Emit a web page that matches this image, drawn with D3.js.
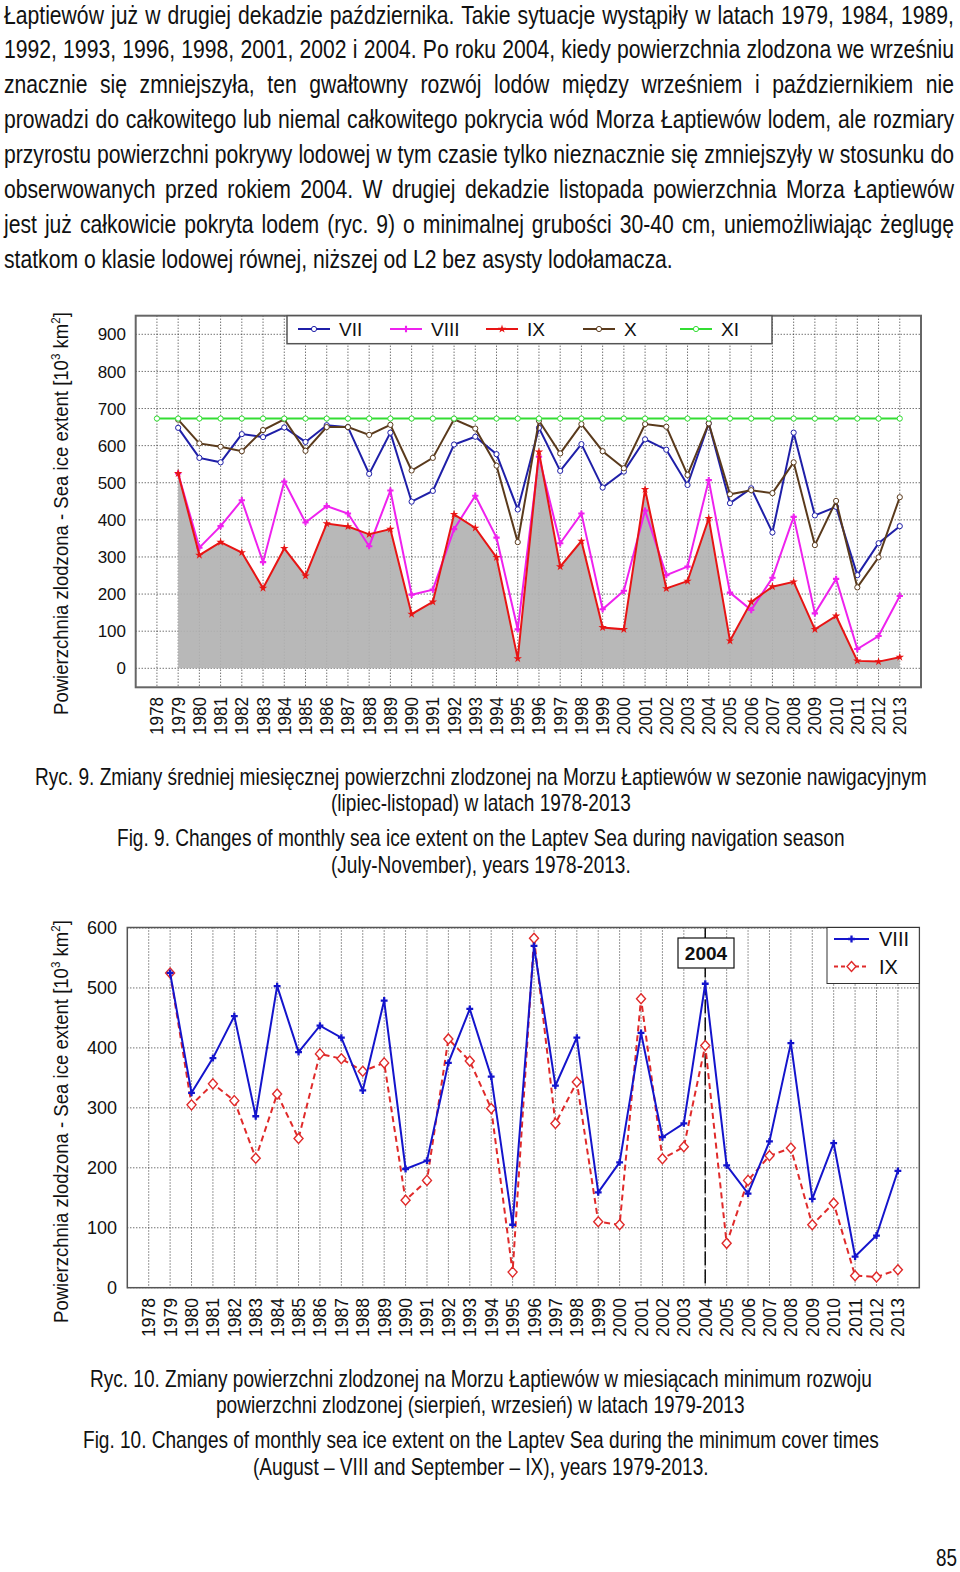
<!DOCTYPE html>
<html><head><meta charset="utf-8">
<script src="https://cdn.jsdelivr.net/npm/d3@7"></script>
<style>html,body{margin:0;padding:0;background:#fff;}svg{display:block;}</style>
</head><body>
<svg id="page" width="960" height="1572"></svg>
<script>
// ---------- DATA ----------
const years = [1978,1979,1980,1981,1982,1983,1984,1985,1986,1987,1988,1989,1990,1991,1992,1993,1994,1995,1996,1997,1998,1999,2000,2001,2002,2003,2004,2005,2006,2007,2008,2009,2010,2011,2012,2013];
const seriesVII  = [null,648,567,555,631,623,649,610,655,650,524,635,449,478,603,624,577,428,648,532,604,487,530,617,589,494,660,445,485,366,635,412,435,251,337,383];
const seriesVIII = [null,525,325,383,453,286,503,393,437,417,329,479,198,212,375,465,352,105,570,337,417,159,209,425,251,274,507,204,157,244,408,148,241,52,87,195];
const seriesIX   = [null,525,305,340,312,216,323,249,390,382,361,375,146,179,415,378,299,26,583,274,343,110,105,482,215,235,404,74,179,220,233,105,141,20,18,30];
const seriesX    = [null,670,606,597,585,642,671,586,650,650,629,656,533,567,671,646,546,340,667,579,658,585,539,658,651,521,660,469,480,472,555,332,451,218,299,461];
const seriesXI   = [673,673,673,673,673,673,673,673,673,673,673,673,673,673,673,673,673,673,673,673,673,673,673,673,673,673,673,673,673,673,673,673,673,673,673,673];
const topTicks = [0,100,200,300,400,500,600,700,800,900];
const bottomTicks = [0,100,200,300,400,500,600];
const topLegend = ["VII","VIII","IX","X","XI"];
const bottomLegend = ["VIII","IX"];
const markedYear = "2004";

const paragraph = [
 "Łaptiewów już w drugiej dekadzie października. Takie sytuacje wystąpiły w latach 1979, 1984, 1989,",
 "1992, 1993, 1996, 1998, 2001, 2002 i 2004. Po roku 2004, kiedy powierzchnia zlodzona we wrześniu",
 "znacznie się zmniejszyła, ten gwałtowny rozwój lodów między wrześniem i październikiem nie",
 "prowadzi do całkowitego lub niemal całkowitego pokrycia wód Morza Łaptiewów lodem, ale rozmiary",
 "przyrostu powierzchni pokrywy lodowej w tym czasie tylko nieznacznie się zmniejszyły w stosunku do",
 "obserwowanych przed rokiem 2004. W drugiej dekadzie listopada powierzchnia Morza Łaptiewów",
 "jest już całkowicie pokryta lodem (ryc. 9) o minimalnej grubości 30-40 cm, uniemożliwiając żeglugę",
 "statkom o klasie lodowej równej, niższej od L2 bez asysty lodołamacza."
];
const caption9 = [
 "Ryc. 9. Zmiany średniej miesięcznej powierzchni zlodzonej na Morzu Łaptiewów w sezonie nawigacyjnym",
 "(lipiec-listopad) w latach 1978-2013",
 "Fig. 9. Changes of monthly sea ice extent on the Laptev Sea during navigation season",
 "(July-November), years 1978-2013."
];
const caption10 = [
 "Ryc. 10. Zmiany powierzchni zlodzonej na Morzu Łaptiewów w miesiącach minimum rozwoju",
 "powierzchni zlodzonej (sierpień, wrzesień) w latach 1979-2013",
 "Fig. 10. Changes of monthly sea ice extent on the Laptev Sea during the minimum cover times",
 "(August – VIII and September – IX), years 1979-2013."
];
const pageNumber = "85";

// ---------- HELPERS ----------
const svg = d3.select("#page");
const FONT = "'Liberation Sans Narrow', 'Liberation Sans', Arial, Helvetica, sans-serif";
const FONT_REG = "'Liberation Sans', Arial, Helvetica, sans-serif";

// text squeezed horizontally (by a scale transform) to span [left, right]
function scaledText(g, s, left, right, baseline, size, opts = {}) {
  const t = g.append("text").attr("x", 0).attr("y", 0)
    .attr("font-family", FONT).attr("font-size", size)
    .attr("font-weight", opts.weight || "normal")
    .attr("fill", opts.fill || "#111").text(s);
  const w = t.node().getComputedTextLength();
  t.attr("transform", `translate(${left},${baseline}) scale(${(right-left)/w},1)`);
  return t;
}

// ---------- PARAGRAPH ----------
(function(){
  const size = 26, left = 4, right = 954, lastRight = 673;
  const g = svg.append("g");
  const probe = g.append("text").attr("font-family", FONT).attr("font-size", size).text(paragraph[paragraph.length-1]);
  const natLast = probe.node().getComputedTextLength();
  probe.remove();
  const sx = (lastRight - left) / natLast;
  const pg = g.append("g").attr("transform", `translate(${left},0) scale(${sx},1)`);
  paragraph.forEach((line, i) => {
    const t = pg.append("text").attr("x", 0).attr("y", 23.6 + 34.85 * i)
      .attr("font-family", FONT).attr("font-size", size).attr("fill", "#111").text(line);
    if (i < paragraph.length - 1) {
      const w = t.node().getComputedTextLength();
      const spaces = (line.match(/ /g) || []).length;
      const target = (right - left) / sx;
      t.attr("word-spacing", (target - w) / spaces);
    }
  });
})();

// ---------- CAPTIONS ----------
const capSize = 23;
const cap9Pos = [[35,927,785],[331,631,811],[117,845,846],[331,631,873]];
caption9.forEach((s,i)=> scaledText(svg, s, cap9Pos[i][0], cap9Pos[i][1], cap9Pos[i][2], capSize));
const cap10Pos = [[90,872,1387],[216,745,1413],[83,879,1448],[253,709,1475]];
caption10.forEach((s,i)=> scaledText(svg, s, cap10Pos[i][0], cap10Pos[i][1], cap10Pos[i][2], capSize));
scaledText(svg, pageNumber, 936, 957, 1566, capSize);

// y-axis title
function yTitle(cx, cy, len) {
  const t = svg.append("text")
    .attr("font-family", FONT_REG).attr("font-size", 21).attr("fill", "#111");
  t.append("tspan").text("Powierzchnia zlodzona - Sea ice extent [10");
  t.append("tspan").attr("dy", -8).attr("font-size", 13).text("3");
  t.append("tspan").attr("dy", 8).text(" km");
  t.append("tspan").attr("dy", -8).attr("font-size", 13).text("2");
  t.append("tspan").attr("dy", 8).text("]");
  const w = t.node().getComputedTextLength();
  t.attr("transform", `translate(${cx},${cy}) rotate(-90) translate(${-len/2},0) scale(${len/w},1)`);
}

function gridAndAxes(g, x, y, L, R, T, B, ticks, tickRight, tickSize, xLabTop, xLabLen) {
  const grid = g.append("g").attr("stroke", "#333").attr("stroke-width", 1).attr("stroke-dasharray", "1,2");
  years.forEach(yr => grid.append("line").attr("x1", x(yr)).attr("x2", x(yr)).attr("y1", T).attr("y2", B));
  ticks.forEach(v => grid.append("line").attr("x1", L).attr("x2", R).attr("y1", y(v)).attr("y2", y(v)));
  ticks.forEach(v => g.append("text").attr("x", tickRight).attr("y", y(v) + tickSize*0.36)
    .attr("text-anchor", "end").attr("font-family", FONT_REG).attr("font-size", tickSize).attr("fill", "#111").text(v));
  years.forEach(yr => {
    const t = g.append("text").attr("font-family", FONT_REG).attr("font-size", 18).attr("fill", "#111").text(yr);
    const w = t.node().getComputedTextLength();
    t.attr("transform", `translate(${x(yr) + 6.5},${xLabTop + xLabLen}) rotate(-90) scale(${xLabLen/w},1)`);
  });
}

// ---------- TOP CHART (Ryc. 9) ----------
(function(){
  const L = 135.7, R = 921, T = 315.7, B = 687.3;
  const x = d3.scaleLinear().domain([1977, 2014]).range([L, R]);
  const y = d3.scaleLinear().domain([0, 900]).range([668.3, 334.3]);
  const g = svg.append("g");
  yTitle(68, 513.5, 403);
  gridAndAxes(g, x, y, L, R, T, B, topTicks, 126, 17, 697, 38);

  const pts = arr => years.map((yr,i)=>({yr, v: arr[i]})).filter(d => d.v != null);
  g.append("path").datum(pts(seriesIX))
    .attr("d", d3.area().x(d=>x(d.yr)).y0(y(0)).y1(d=>y(d.v)))
    .attr("fill", "#b2b2b2").attr("fill-opacity", 0.92);

  const line = d3.line().x(d=>x(d.yr)).y(d=>y(d.v));
  const defs = [
    {name:"VII",  data: seriesVII,  color:"#1f1fa8", marker:"circle"},
    {name:"X",    data: seriesX,    color:"#5a3a1c", marker:"circle"},
    {name:"XI",   data: seriesXI,   color:"#33dd33", marker:"circle"},
    {name:"VIII", data: seriesVIII, color:"#ee22ee", marker:"cross"},
    {name:"IX",   data: seriesIX,   color:"#e81414", marker:"star"}
  ];
  defs.forEach(s => {
    const d = pts(s.data);
    g.append("path").datum(d).attr("d", line).attr("fill","none").attr("stroke", s.color).attr("stroke-width", 2);
    if (s.marker === "circle") {
      g.selectAll(null).data(d).enter().append("circle")
        .attr("cx", p=>x(p.yr)).attr("cy", p=>y(p.v)).attr("r", 2.6)
        .attr("fill", "#fff").attr("stroke", s.color).attr("stroke-width", 1);
    } else {
      const sym = d3.symbol().type(s.marker === "cross" ? d3.symbolCross : d3.symbolStar).size(22);
      g.selectAll(null).data(d).enter().append("path")
        .attr("transform", p=>`translate(${x(p.yr)},${y(p.v)})`).attr("d", sym).attr("fill", s.color);
    }
  });
  g.append("rect").attr("x", L).attr("y", T).attr("width", R-L).attr("height", B-T)
    .attr("fill","none").attr("stroke","#666").attr("stroke-width", 2);
  const lg = g.append("g");
  lg.append("rect").attr("x", 287).attr("y", T).attr("width", 485).attr("height", 28)
    .attr("fill", "#fff").attr("stroke", "#555").attr("stroke-width", 1.5);
  const lx = {VII:298, VIII:390, IX:486, X:583, XI:680};
  const byName = Object.fromEntries(defs.map(d=>[d.name,d]));
  topLegend.forEach(n => {
    const s = byName[n], x0 = lx[n], ly = 329;
    lg.append("line").attr("x1", x0).attr("x2", x0+32).attr("y1", ly).attr("y2", ly).attr("stroke", s.color).attr("stroke-width", 2);
    if (s.marker === "circle") lg.append("circle").attr("cx", x0+16).attr("cy", ly).attr("r", 2.6).attr("fill","#fff").attr("stroke", s.color);
    else lg.append("path").attr("transform", `translate(${x0+16},${ly})`).attr("d", d3.symbol().type(s.marker==="cross"?d3.symbolCross:d3.symbolStar).size(22)).attr("fill", s.color);
    lg.append("text").attr("x", x0+41).attr("y", ly+7).attr("font-family", FONT_REG).attr("font-size", 19).attr("fill","#111").text(n);
  });
})();

// ---------- BOTTOM CHART (Ryc. 10) ----------
(function(){
  const L = 127.3, R = 919.3, T = 927.5, B = 1287.7;
  const x = d3.scaleLinear().domain([1977, 2014]).range([L, R]);
  const y = d3.scaleLinear().domain([0, 600]).range([B, 928]);
  const g = svg.append("g");
  yTitle(68, 1121.5, 403);
  gridAndAxes(g, x, y, L, R, T, B, bottomTicks, 117, 18, 1298, 39);

  const xm = x(+markedYear);
  g.append("line").attr("x1", xm).attr("x2", xm).attr("y1", T).attr("y2", B)
    .attr("stroke", "#111").attr("stroke-width", 1.5).attr("stroke-dasharray", "14,4");

  const pts = arr => years.map((yr,i)=>({yr, v: arr[i]})).filter(d => d.v != null);
  const line = d3.line().x(d=>x(d.yr)).y(d=>y(d.v));
  const diamond = (cx, cy) => `M${cx},${cy-5}L${cx+4.5},${cy}L${cx},${cy+5}L${cx-4.5},${cy}Z`;
  const colIX = "#e02a2a", colVIII = "#1414cc";

  const dIX = pts(seriesIX);
  g.append("path").datum(dIX).attr("d", line).attr("fill","none").attr("stroke", colIX)
    .attr("stroke-width", 2).attr("stroke-dasharray", "6,4");
  g.selectAll(null).data(dIX).enter().append("path")
    .attr("d", p=>diamond(x(p.yr), y(p.v))).attr("fill","#fff").attr("stroke", colIX).attr("stroke-width", 1.4);

  const dVIII = pts(seriesVIII);
  g.append("path").datum(dVIII).attr("d", line).attr("fill","none").attr("stroke", colVIII).attr("stroke-width", 2);
  g.selectAll(null).data(dVIII).enter().append("path")
    .attr("transform", p=>`translate(${x(p.yr)},${y(p.v)})`).attr("d", d3.symbol().type(d3.symbolCross).size(26)).attr("fill", colVIII);

  g.append("rect").attr("x", L).attr("y", T).attr("width", R-L).attr("height", B-T)
    .attr("fill","none").attr("stroke","#555").attr("stroke-width", 1.5);

  g.append("rect").attr("x", 678).attr("y", 938).attr("width", 56).attr("height", 30)
    .attr("fill","#fff").attr("stroke","#111").attr("stroke-width", 1.2);
  g.append("text").attr("x", 706).attr("y", 960).attr("text-anchor","middle")
    .attr("font-family", FONT_REG).attr("font-weight","bold").attr("font-size", 19).attr("fill","#111").text(markedYear);

  g.append("rect").attr("x", 827).attr("y", T).attr("width", R-827).attr("height", 56)
    .attr("fill","#fff").attr("stroke","#333").attr("stroke-width", 1);
  const ly = [939, 966.5];
  bottomLegend.forEach((n, i) => {
    const yy = ly[i];
    if (n === "VIII") {
      g.append("line").attr("x1", 834).attr("x2", 869).attr("y1", yy).attr("y2", yy).attr("stroke", colVIII).attr("stroke-width", 2);
      g.append("path").attr("transform", `translate(851.5,${yy})`).attr("d", d3.symbol().type(d3.symbolCross).size(26)).attr("fill", colVIII);
    } else {
      g.append("line").attr("x1", 834).attr("x2", 869).attr("y1", yy).attr("y2", yy).attr("stroke", colIX).attr("stroke-width", 2).attr("stroke-dasharray", "4,3");
      g.append("path").attr("d", diamond(851.5, yy)).attr("fill","#fff").attr("stroke", colIX).attr("stroke-width", 1.4);
    }
    g.append("text").attr("x", 879).attr("y", yy+7).attr("font-family", FONT_REG).attr("font-size", 20).attr("fill","#111").text(n);
  });
})();
</script>
</body></html>
